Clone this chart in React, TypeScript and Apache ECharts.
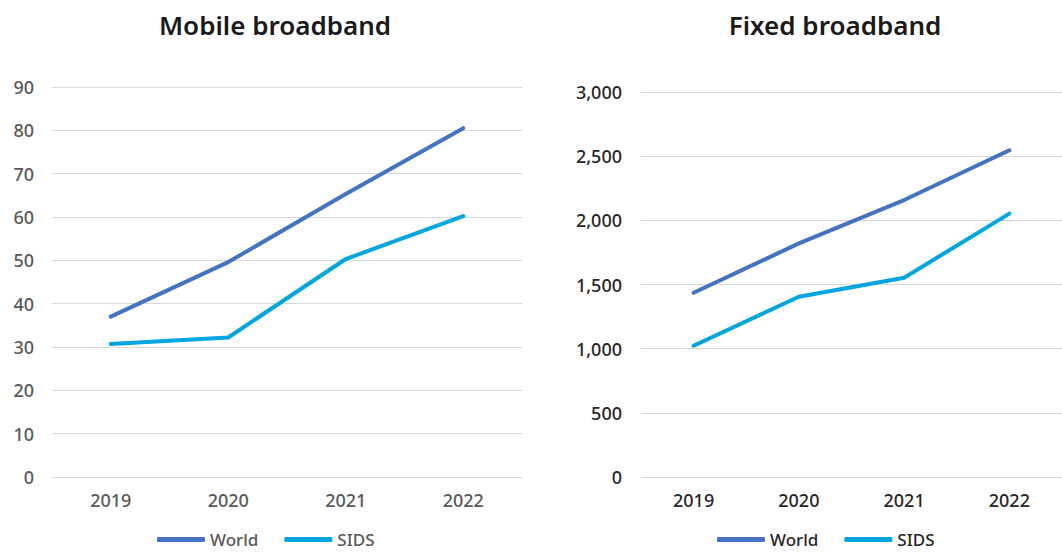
import React, { useEffect, useRef } from "react";
import * as echarts from "echarts";

const years = ["2019", "2020", "2021", "2022"];
const mobileWorld = [37.0, 49.6, 65.3, 80.5];
const mobileSids = [30.7, 32.2, 50.3, 60.2];
const fixedWorld = [1436, 1820, 2158, 2546];
const fixedSids = [1023, 1405, 1553, 2052];
const seriesNames = ["World", "SIDS"];
const titles = ["Mobile broadband", "Fixed broadband"];

const WORLD = "#4472C4";
const SIDS = "#00A6E0";
const FONT = "'Noto Sans', Lato, sans-serif";

export default function App() {
  const ref = useRef<HTMLDivElement>(null);
  useEffect(() => {
    if (!ref.current) return;
    const chart = echarts.init(ref.current, null, { renderer: "svg" });
    const grids = [
      { left: 52, top: 87, width: 470, height: 390 },
      { left: 641, top: 92, width: 437, height: 385 },
    ];
    const labelColors = ["#595959", "#262626"];
    const mkLine = (name: string, data: number[], color: string, idx: number) => ({
      type: "line",
      name,
      data,
      xAxisIndex: idx,
      yAxisIndex: idx,
      symbol: "none",
      lineStyle: { width: 4, color, cap: "round" },
      itemStyle: { color },
    });
    const titleStyle = { fontFamily: FONT, fontSize: 26, fontWeight: 600, color: "#1a1a1a" };
    const legendBase = {
      data: seriesNames,
      top: 531,
      icon: "roundRect",
      itemWidth: 48,
      itemHeight: 5,
      itemGap: 26,
      padding: 0,
    };
    chart.setOption({
      animation: false,
      textStyle: { fontFamily: FONT },
      title: [
        { text: titles[0], left: 270, top: 7, textAlign: "center", textStyle: titleStyle },
        { text: titles[1], left: 830, top: 7, textAlign: "center", textStyle: titleStyle },
      ],
      legend: [
        {
          ...legendBase,
          left: 157,
          textStyle: { fontFamily: FONT, fontSize: 17, fontWeight: 500, color: labelColors[0] },
        },
        {
          ...legendBase,
          left: 717,
          textStyle: { fontFamily: FONT, fontSize: 17, fontWeight: 500, color: labelColors[1] },
        },
      ],
      grid: grids,
      xAxis: [0, 1].map((i) => ({
        type: "category",
        data: years,
        gridIndex: i,
        axisLine: { show: false },
        axisTick: { show: false },
        axisLabel: { fontFamily: FONT, fontSize: 18, fontWeight: 500, color: labelColors[i], margin: 14 },
      })),
      yAxis: [
        {
          type: "value",
          gridIndex: 0,
          min: 0,
          max: 90,
          interval: 10,
          axisLine: { show: false },
          axisTick: { show: false },
          axisLabel: { fontFamily: FONT, fontSize: 18, fontWeight: 500, color: labelColors[0], margin: 18 },
          splitLine: { lineStyle: { color: "#d9d9d9", width: 1 } },
        },
        {
          type: "value",
          gridIndex: 1,
          min: 0,
          max: 3000,
          interval: 500,
          axisLine: { show: false },
          axisTick: { show: false },
          axisLabel: {
            fontFamily: FONT,
            fontSize: 18,
            fontWeight: 500,
            color: labelColors[1],
            margin: 19,
            formatter: (v: number) => v.toLocaleString("en-US"),
          },
          splitLine: { lineStyle: { color: "#d9d9d9", width: 1 } },
        },
      ],
      series: [
        mkLine(seriesNames[0], mobileWorld, WORLD, 0),
        mkLine(seriesNames[1], mobileSids, SIDS, 0),
        mkLine(seriesNames[0], fixedWorld, WORLD, 1),
        mkLine(seriesNames[1], fixedSids, SIDS, 1),
      ],
    });
    return () => chart.dispose();
  }, []);
  return <div ref={ref} style={{ width: 1062, height: 553, position: "absolute", left: 0, top: 0 }} />;
}
